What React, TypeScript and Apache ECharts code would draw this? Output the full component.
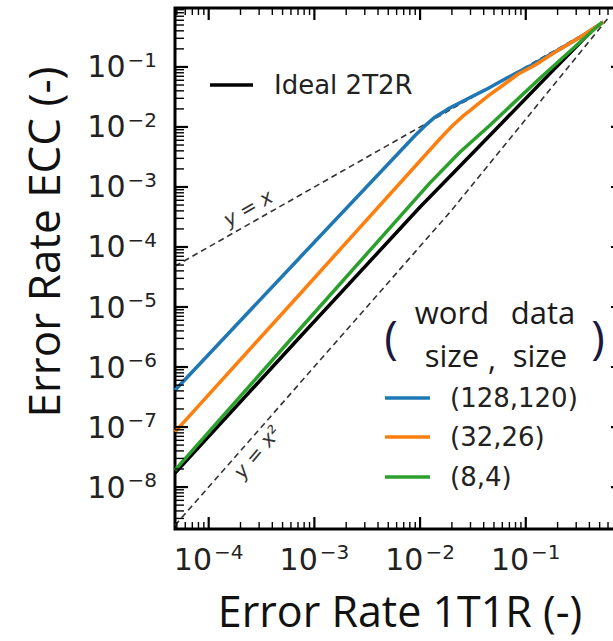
import React, { useEffect, useRef } from 'react';
import * as echarts from 'echarts';

// Axis extents (log scales)
const xMin = 4.8e-5;
const xMax = 0.85;
const yMin = 2e-9;
const yMax = 0.96;

// Tick definitions
const xMajorTicks = [1e-4, 1e-3, 1e-2, 1e-1];
const yMajorTicks = [1e-8, 1e-7, 1e-6, 1e-5, 1e-4, 1e-3, 1e-2, 1e-1];
const xDecades = [1e-5, 1e-4, 1e-3, 1e-2, 1e-1];
const yDecades = [1e-9, 1e-8, 1e-7, 1e-6, 1e-5, 1e-4, 1e-3, 1e-2, 1e-1];
const minorMultipliers = [2, 3, 4, 5, 6, 7, 8, 9];

// Series values
const idealX = [4.8e-5, 7.3e-4, 1.0e-2, 2.39e-2, 5.7e-2, 0.171, 0.456];
const idealY = [1.71e-8, 3.16e-6, 4.64e-4, 2.24e-3, 1.08e-2, 7.94e-2, 0.464];

const blueX = [4.8e-5, 7.3e-4, 8.97e-3, 1.11e-2, 1.39e-2, 1.84e-2, 2.67e-2, 4.13e-2, 6.68e-2, 0.11, 0.212, 0.329, 0.543];
const blueY = [4.1e-7, 6.7e-5, 7.22e-3, 1.04e-2, 1.47e-2, 2.0e-2, 2.82e-2, 4.14e-2, 6.6e-2, 0.104, 0.2, 0.316, 0.56];

const orangeX = [4.8e-5, 7.3e-4, 1.55e-2, 2.01e-2, 2.56e-2, 3.32e-2, 4.41e-2, 6.12e-2, 8.49e-2, 0.123, 0.212, 0.329, 0.543];
const orangeY = [8.3e-8, 1.65e-5, 6.43e-3, 1.04e-2, 1.53e-2, 2.2e-2, 3.29e-2, 5.01e-2, 7.64e-2, 0.108, 0.2, 0.316, 0.56];

const greenX = [4.8e-5, 7.3e-4, 1.24e-2, 2.39e-2, 4.61e-2, 0.137, 0.531];
const greenY = [1.92e-8, 4.3e-6, 1.17e-3, 3.83e-3, 1.08e-2, 6.56e-2, 0.56];

const refLinearX = [4.8e-5, 0.55];
const refLinearY = [4.8e-5, 0.55];
const refSquareX = [4.8e-5, 1.92e-2, 0.605];
const refSquareY = [2.3e-9, 3.8e-4, 0.66];

const legendLabels = ['(128,120)', '(32,26)', '(8,4)'];
const legendColors = ['#1f77b4', '#ff7f0e', '#2ca02c'];

const pairs = (xs: number[], ys: number[]) => xs.map((x, i) => [x, ys[i]]);

function buildTicks() {
  const data: number[][] = [];
  xMajorTicks.forEach((v) => data.push([v, 1e-4, 0]));
  xDecades.forEach((d) => minorMultipliers.forEach((m) => {
    const v = d * m;
    if (v > xMin && v < xMax) data.push([v, 1e-4, 1]);
  }));
  yMajorTicks.forEach((v) => data.push([1e-3, v, 2]));
  yDecades.forEach((d) => minorMultipliers.forEach((m) => {
    const v = d * m;
    if (v > yMin && v < yMax) data.push([1e-3, v, 3]);
  }));
  return data;
}

const labelFormatter = (v: number) => {
  const l = Math.log10(v);
  const e = Math.round(l);
  if (Math.abs(l - e) > 0.01) return '';
  return `{b|10}{s|\u2212${-e}}`;
};

const labelRich = {
  b: { fontSize: 30, fontFamily: 'DejaVu Sans', color: '#222', lineHeight: 34 },
  s: { fontSize: 20, fontFamily: 'DejaVu Sans', color: '#222', lineHeight: 22, verticalAlign: 'top', padding: [0, 0, 0, 2] },
};

const txt = (x: number, y: number, text: string, size: number, family: string, extra: any = {}, rot = 0) => ({
  type: 'text',
  x,
  y,
  rotation: rot,
  silent: true,
  z: 100,
  style: {
    text,
    fontSize: size,
    fontFamily: family,
    lineHeight: extra.lineHeight,
    fill: extra.fill || '#1a1a1a',
    fontStyle: extra.fontStyle || 'normal',
    align: extra.align || 'center',
    textAlign: extra.align || 'center',
    verticalAlign: 'middle',
    textVerticalAlign: 'middle',
  },
});

const seg = (x1: number, y1: number, x2: number, y2: number, color: string, w: number) => ({
  type: 'line',
  silent: true,
  z: 100,
  shape: { x1, y1, x2, y2 },
  style: { stroke: color, lineWidth: w },
});

export default function App() {
  const ref = useRef<HTMLDivElement>(null);
  useEffect(() => {
    if (!ref.current) return;
    const chart = echarts.init(ref.current, undefined, { renderer: 'svg' });
    const line = (name: string, xs: number[], ys: number[], color: string, width: number, z: number, dashed = false) => ({
      type: 'line',
      name,
      data: pairs(xs, ys),
      symbol: 'none',
      showSymbol: false,
      silent: true,
      z,
      lineStyle: { color, width, type: dashed ? [6, 4] : 'solid', cap: 'butt', join: 'round' },
    });
    const option: any = {
      animation: false,
      backgroundColor: '#fff',
      grid: {
        left: 175,
        top: 8,
        width: 449,
        height: 521,
        show: true,
        borderColor: '#000',
        borderWidth: 3,
        backgroundColor: 'transparent',
        containLabel: false,
        outerBoundsMode: 'none',
      },
      xAxis: {
        type: 'log',
        logBase: 10,
        min: xMin,
        max: xMax,
        axisLine: { show: false },
        axisTick: { show: false },
        splitLine: { show: false },
        axisLabel: { margin: 13, formatter: labelFormatter, rich: labelRich },
      },
      yAxis: {
        type: 'log',
        logBase: 10,
        min: yMin,
        max: yMax,
        axisLine: { show: false },
        axisTick: { show: false },
        splitLine: { show: false },
        axisLabel: { margin: 18, formatter: labelFormatter, rich: labelRich },
      },
      series: [
        line('y=x', refLinearX, refLinearY, '#333', 1.6, 2, true),
        line('y=x2', refSquareX, refSquareY, '#333', 1.6, 2, true),
        line('Ideal 2T2R', idealX, idealY, '#000', 3.5, 3),
        line(legendLabels[0], blueX, blueY, legendColors[0], 3.5, 4),
        line(legendLabels[1], orangeX, orangeY, legendColors[1], 3.5, 5),
        line(legendLabels[2], greenX, greenY, legendColors[2], 3.5, 6),
        {
          type: 'custom',
          silent: true,
          z: 20,
          clip: false,
          data: buildTicks(),
          renderItem: (params: any, api: any) => {
            const kind = api.value(2);
            const cs = params.coordSys;
            const major = kind === 0 || kind === 2;
            const w = major ? 2.2 : 1.4;
            const st = { stroke: '#000', lineWidth: w };
            if (kind < 2) {
              const len = major ? 12 : 7;
              const px = api.coord([api.value(0), api.value(1)])[0];
              const b = cs.y + cs.height;
              return {
                type: 'group',
                children: [
                  { type: 'line', shape: { x1: px, y1: b, x2: px, y2: b - len }, style: st },
                  { type: 'line', shape: { x1: px, y1: cs.y, x2: px, y2: cs.y + len }, style: st },
                ],
              };
            }
            const len = major ? 13 : 9;
            const py = api.coord([api.value(0), api.value(1)])[1];
            const r = cs.x + cs.width;
            return {
              type: 'group',
              children: [
                { type: 'line', shape: { x1: cs.x, y1: py, x2: cs.x + len, y2: py }, style: st },
                { type: 'line', shape: { x1: r, y1: py, x2: r - len, y2: py }, style: st },
              ],
            };
          },
        },
      ],
      graphic: [
        txt(43, 242, 'Error Rate ECC (-)', 44, 'Open Sans', { fill: '#111', lineHeight: 46 }, Math.PI / 2),
        txt(400, 610, 'Error Rate 1T1R (-)', 43, 'Open Sans', { fill: '#111', lineHeight: 44 }),
        seg(210, 85, 253, 85, '#000', 3.5),
        txt(274, 85, 'Ideal 2T2R', 26, 'DejaVu Sans', { align: 'left', fill: '#222' }),
        txt(248, 208, 'y = x', 20, 'DejaVu Sans', { fontStyle: 'italic', fill: '#333' }, (30 * Math.PI) / 180),
        txt(257, 452, 'y = x\u00b2', 20, 'DejaVu Sans', { fontStyle: 'italic', fill: '#333' }, (50 * Math.PI) / 180),
        txt(391, 336, '(', 46, 'Open Sans', { fill: '#1a1a40' }),
        txt(598, 336, ')', 46, 'Open Sans', { fill: '#1a1a40' }),
        txt(452, 312, 'word', 31, 'Open Sans'),
        txt(543, 312, 'data', 31, 'Open Sans'),
        txt(452, 355, 'size', 31, 'Open Sans'),
        txt(492, 358, ',', 31, 'Open Sans'),
        txt(540, 355, 'size', 31, 'Open Sans'),
        seg(385, 398, 430, 398, legendColors[0], 3.5),
        seg(385, 437, 430, 437, legendColors[1], 3.5),
        seg(385, 477, 430, 477, legendColors[2], 3.5),
        txt(450, 398, legendLabels[0], 26, 'DejaVu Sans', { align: 'left', fill: '#222' }),
        txt(450, 437, legendLabels[1], 26, 'DejaVu Sans', { align: 'left', fill: '#222' }),
        txt(450, 477, legendLabels[2], 26, 'DejaVu Sans', { align: 'left', fill: '#222' }),
      ],
    };
    chart.setOption(option);
    return () => chart.dispose();
  }, []);
  return (
    <div
      ref={ref}
      style={{ position: 'fixed', left: 0, top: 0, width: 613, height: 641, background: '#fff' }}
    />
  );
}
